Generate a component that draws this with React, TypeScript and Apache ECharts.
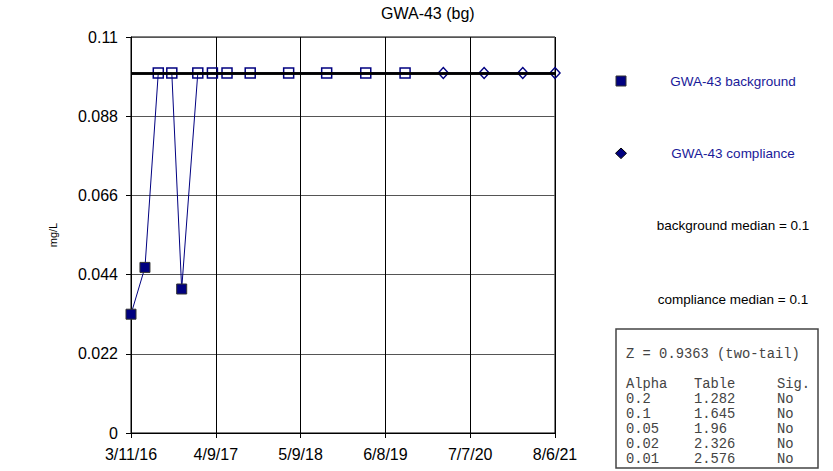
import React, { useEffect, useRef } from "react";
import * as echarts from "echarts";

const title = "GWA-43 (bg)";
const yAxisName = "mg/L";
const startDate = "2016-03-11";
const endDate = "2021-08-06";
const yTicks = [0, 0.022, 0.044, 0.066, 0.088, 0.11];

const bgName = "GWA-43 background";
const bgDates = [
  "2016-03-11", "2016-05-15", "2016-07-16", "2016-09-17", "2016-11-02",
  "2017-01-16", "2017-03-25", "2017-06-01", "2017-09-17", "2018-03-15",
  "2018-09-08", "2019-03-09", "2019-09-08",
];
const bgValues = [0.033, 0.046, 0.1, 0.1, 0.04, 0.1, 0.1, 0.1, 0.1, 0.1, 0.1, 0.1, 0.1];
const bgDetected = [true, true, false, false, true, false, false, false, false, false, false, false, false];

const compName = "GWA-43 compliance";
const compDates = ["2020-03-04", "2020-09-10", "2021-03-09", "2021-08-06"];
const compValues = [0.1, 0.1, 0.1, 0.1];
const compDetected = [false, false, false, false];

const bgMedian = 0.1;
const compMedian = 0.1;

const zStat = "0.9363";
const alphas = ["0.2", "0.1", "0.05", "0.02", "0.01"];
const tableValues = ["1.282", "1.645", "1.96", "2.326", "2.576"];
const sigValues = ["No", "No", "No", "No", "No"];

const DAY = 86400000;
const t0 = Date.parse(startDate + "T00:00:00Z");
const toDays = (d: string) => (Date.parse(d + "T00:00:00Z") - t0) / DAY;
const spanDays = toDays(endDate);

const NAVY = "#000080";
const SANS = "'Liberation Sans', Arial, sans-serif";
const MONO = "'Courier New', 'Liberation Mono', monospace";
const TABLE_TEXT = "#444";

function fmtDate(v: number) {
  const d = new Date(t0 + v * DAY);
  return `${d.getUTCMonth() + 1}/${d.getUTCDate()}/${String(d.getUTCFullYear()).slice(2)}`;
}

export default function App() {
  const ref = useRef<HTMLDivElement>(null);
  useEffect(() => {
    if (!ref.current) return;
    const chart = echarts.init(ref.current, null, { renderer: "svg" });

    const bgData = bgDates.map((d, i) => ({
      value: [toDays(d), bgValues[i]],
      itemStyle: bgDetected[i]
        ? { color: NAVY, borderColor: "#333", borderWidth: 1 }
        : { color: "rgba(0,0,0,0)", borderColor: NAVY, borderWidth: 1.5 },
    }));
    const compData = compDates.map((d, i) => ({
      value: [toDays(d), compValues[i]],
      itemStyle: compDetected[i]
        ? { color: NAVY, borderColor: "#000", borderWidth: 1 }
        : { color: "rgba(0,0,0,0)", borderColor: NAVY, borderWidth: 1.5 },
    }));

    const yStep = yTicks[1] - yTicks[0];
    const tableLeft = 616;
    const tableTop = 329;
    const rowY0 = 384;
    const rowStep = 15.1;
    const mono = `13.8px ${MONO}`;

    const graphics: any[] = [
      // legend
      { type: "rect", shape: { x: 616, y: 76, width: 10, height: 10 }, style: { fill: NAVY, stroke: "#333", lineWidth: 1 } },
      { type: "text", x: 733, y: 81, style: { text: bgName, fill: "#1a1a99", font: `13.5px ${SANS}`, textAlign: "center", textVerticalAlign: "middle" } },
      { type: "polygon", shape: { points: [[621, 148], [626.5, 153.3], [621, 158.6], [615.5, 153.3]] }, style: { fill: NAVY, stroke: "#000", lineWidth: 1 } },
      { type: "text", x: 733, y: 153, style: { text: compName, fill: "#1a1a99", font: `13.5px ${SANS}`, textAlign: "center", textVerticalAlign: "middle" } },
      { type: "text", x: 733, y: 225, style: { text: `background median = ${bgMedian}`, fill: "#000", font: `13.5px ${SANS}`, textAlign: "center", textVerticalAlign: "middle" } },
      { type: "text", x: 733, y: 299, style: { text: `compliance median = ${compMedian}`, fill: "#000", font: `13.5px ${SANS}`, textAlign: "center", textVerticalAlign: "middle" } },
      // stats table
      { type: "rect", shape: { x: tableLeft, y: tableTop, width: 202, height: 139 }, style: { fill: "#fff", stroke: "#444", lineWidth: 1.5 } },
      { type: "text", x: 626, y: 354, style: { text: `Z = ${zStat} (two-tail)`, fill: TABLE_TEXT, font: mono, textVerticalAlign: "middle" } },
      { type: "text", x: 626, y: rowY0, style: { text: "Alpha", fill: TABLE_TEXT, font: mono, textVerticalAlign: "middle" } },
      { type: "text", x: 694, y: rowY0, style: { text: "Table", fill: TABLE_TEXT, font: mono, textVerticalAlign: "middle" } },
      { type: "text", x: 777, y: rowY0, style: { text: "Sig.", fill: TABLE_TEXT, font: mono, textVerticalAlign: "middle" } },
    ];
    alphas.forEach((a, i) => {
      const y = rowY0 + rowStep * (i + 1);
      graphics.push(
        { type: "text", x: 626, y, style: { text: a, fill: TABLE_TEXT, font: mono, textVerticalAlign: "middle" } },
        { type: "text", x: 694, y, style: { text: tableValues[i], fill: TABLE_TEXT, font: mono, textVerticalAlign: "middle" } },
        { type: "text", x: 777, y, style: { text: sigValues[i], fill: TABLE_TEXT, font: mono, textVerticalAlign: "middle" } },
      );
    });

    chart.setOption({
      animation: false,
      backgroundColor: "#fff",
      title: {
        text: title,
        left: 381,
        top: 5,
        padding: 0,
        textStyle: { fontFamily: SANS, fontSize: 16, fontWeight: "normal", color: "#000" },
      },
      grid: {
        left: 131,
        top: 37,
        width: 424,
        height: 396,
        show: true,
        borderColor: "#000",
        borderWidth: 1,
        containLabel: false,
      },
      xAxis: {
        type: "value",
        min: 0,
        max: spanDays,
        interval: spanDays / 5,
        axisLine: { show: true, onZero: false, lineStyle: { color: "#000", width: 1 } },
        axisTick: { show: true, length: 5, lineStyle: { color: "#000" } },
        splitLine: { show: true, lineStyle: { color: "#000", width: 1 } },
        axisLabel: {
          formatter: (v: number) => fmtDate(v),
          fontFamily: SANS,
          fontSize: 16,
          color: "#000",
          margin: 13,
          showMinLabel: true,
          showMaxLabel: true,
        },
      },
      yAxis: {
        type: "value",
        min: yTicks[0],
        max: yTicks[yTicks.length - 1],
        interval: yStep,
        name: yAxisName,
        nameLocation: "middle",
        nameGap: 73,
        nameTextStyle: { fontFamily: SANS, fontSize: 11, color: "#000" },
        axisLine: { show: true, lineStyle: { color: "#000", width: 1 } },
        axisTick: { show: true, length: 5, lineStyle: { color: "#000" } },
        splitLine: { show: true, lineStyle: { color: "#555", width: 1 } },
        axisLabel: {
          formatter: (v: number) => (v === 0 ? "0" : String(+v.toFixed(3))),
          fontFamily: SANS,
          fontSize: 16,
          color: "#000",
          margin: 13,
        },
      },
      series: [
        {
          name: bgName,
          type: "line",
          data: bgData,
          symbol: "rect",
          symbolSize: 10,
          lineStyle: { color: NAVY, width: 1 },
          z: 3,
          markLine: {
            silent: true,
            symbol: "none",
            label: { show: false },
            lineStyle: { color: "#000", width: 2.5, type: "solid" },
            data: [{ yAxis: bgMedian }],
          },
        },
        {
          name: compName,
          type: "line",
          data: compData,
          symbol: "diamond",
          symbolSize: [10, 11],
          lineStyle: { color: NAVY, width: 1 },
          z: 3,
          markLine: {
            silent: true,
            symbol: "none",
            label: { show: false },
            lineStyle: { color: "#000", width: 2.5, type: "solid" },
            data: [{ yAxis: compMedian }],
          },
        },
      ],
      graphic: graphics,
    });

    return () => chart.dispose();
  }, []);

  return (
    <div
      ref={ref}
      style={{ position: "fixed", left: 0, top: 0, width: 833, height: 471, background: "#fff" }}
    />
  );
}
